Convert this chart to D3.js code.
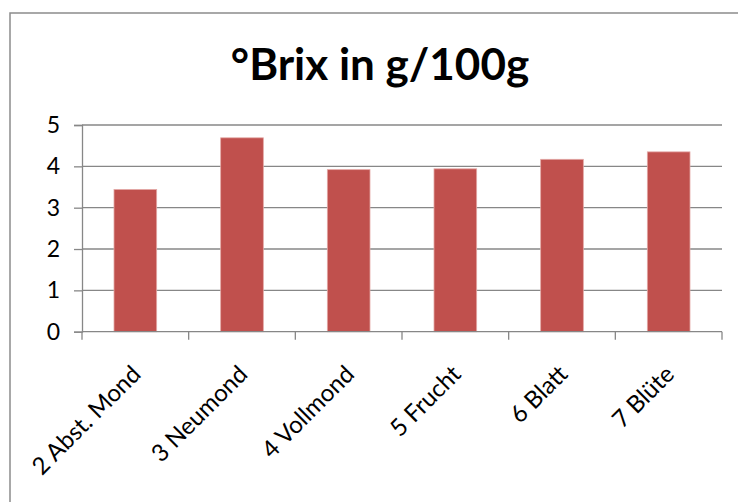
<!DOCTYPE html>
<html><head><meta charset="utf-8">
<script src="https://cdn.jsdelivr.net/npm/d3@7"></script>
<style>body{margin:0;background:#fff}svg{display:block}</style>
</head><body>
<script>
const categories = ["2 Abst. Mond","3 Neumond","4 Vollmond","5 Frucht","6 Blatt","7 Blüte"];
const values = [3.44, 4.69, 3.92, 3.94, 4.17, 4.35];
const yTicks = [0,1,2,3,4,5];
const title = "°Brix in g/100g";

const W = 738, H = 502;
const svg = d3.select("body").append("svg").attr("width", W).attr("height", H);
const font = "Lato, 'Open Sans', sans-serif";

svg.append("rect").attr("x",10).attr("y",13).attr("width",740).attr("height",500)
  .attr("fill","#fff").attr("stroke","#8c8c8c").attr("stroke-width",1.5);

const m = {left:82, right:722, top:125, bottom:331.7};
const x = d3.scaleBand().domain(categories).range([m.left,m.right]).paddingInner(0.6).paddingOuter(0.3);
const y = d3.scaleLinear().domain([0,5]).range([m.bottom,m.top]);

// gridlines
svg.append("g").selectAll("line").data(yTicks.slice(1)).join("line")
  .attr("x1",m.left).attr("x2",m.right).attr("y1",d=>y(d)).attr("y2",d=>y(d))
  .attr("stroke","#878787").attr("stroke-width",1.3);

// bars
svg.append("g").selectAll("rect").data(values).join("rect")
  .attr("x",(d,i)=>x(categories[i])).attr("width",x.bandwidth())
  .attr("y",d=>y(d)).attr("height",d=>y(0)-y(d))
  .attr("fill","#c0504d").attr("stroke","#e3a8a6").attr("stroke-width",0.8);

// y axis
const ya = svg.append("g").attr("transform",`translate(${m.left},0)`)
  .call(d3.axisLeft(y).tickValues(yTicks).tickSize(8).tickPadding(14).tickFormat(d3.format("d")));
ya.select(".domain").attr("stroke","#878787").attr("stroke-width",1.3);
ya.selectAll(".tick line").attr("stroke","#878787").attr("stroke-width",1.3);
ya.selectAll("text").attr("font-family",font).attr("font-size",23).attr("fill","#000");

// x axis
const step = x.step();
const xa = svg.append("g").attr("transform",`translate(0,${m.bottom})`);
xa.append("line").attr("x1",m.left).attr("x2",m.right).attr("stroke","#878787").attr("stroke-width",1.3);
const bounds = d3.range(categories.length+1).map(i=>m.left+i*step);
xa.selectAll("line.t").data(bounds).join("line").attr("class","t")
  .attr("x1",d=>d).attr("x2",d=>d).attr("y1",0).attr("y2",8)
  .attr("stroke","#878787").attr("stroke-width",1.3);
xa.selectAll("text").data(categories).join("text")
  .attr("transform",d=>`translate(${x(d)+x.bandwidth()/2+7},${44}) rotate(-45)`)
  .attr("text-anchor","end").attr("font-family",font).attr("font-size",24).attr("fill","#000")
  .text(d=>d);

svg.append("text").attr("x",380).attr("y",79.5).attr("text-anchor","middle")
  .attr("font-family",font).attr("font-weight","bold").attr("font-size",44).attr("fill","#000")
  .text(title);
</script>
</body></html>
